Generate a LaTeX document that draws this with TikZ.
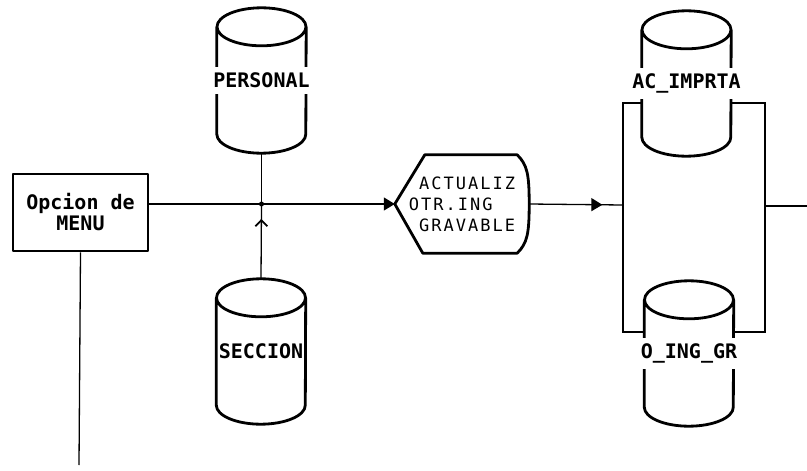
\documentclass[tikz,border=0pt]{standalone}
\usepackage{fontspec}
\setmonofont{DejaVu Sans Mono}
\newfontfamily\spacedfont[LetterSpace=12]{DejaVu Sans Mono}
\usetikzlibrary{arrows.meta, decorations.markings, calc}

\begin{document}
\begin{tikzpicture}[x=1pt, y=-1pt,
  outline/.style={line width=2.8pt, line join=round},
  flow/.style={line width=1.3pt},
  store/.style={minimum width=89pt, minimum height=145pt, inner sep=0pt},
  storetext/.style={fill=white, inner xsep=0pt, inner ysep=6pt,
    font=\ttfamily\bfseries\fontsize{20}{20}\selectfont},
  arrowat/.style={postaction={decorate}, decoration={markings,
    mark=at position #1 with {\arrow{Triangle[length=11pt,width=13pt]}}}},
  caretat/.style={postaction={decorate}, decoration={markings,
    mark=at position #1 with {\arrow{Straight Barb[length=6pt,width=12pt,line width=1.8pt]}}}}
]

\useasboundingbox (0,0) rectangle (807,471);

% Menu option
\node[outline, draw, minimum width=135pt, minimum height=77pt, align=center,
  font=\ttfamily\bfseries\fontsize{20}{21}\selectfont] (menu) at (80.5,212.5) {Opcion de\\MENU};

% Data stores
\node[store] (personal) at (261.5,80.5) {};
\node[store] (seccion) at (261,351.5) {};
\node[store] (acimprta) at (686.5,83.5) {};
\node[store] (oinggr) at (689,353.5) {};
\foreach \s in {personal, seccion, acimprta, oinggr}
  \draw[outline] ($(\s.north)+(0,19)$) ellipse [x radius=44.5, y radius=19]
    ($(\s.north west)+(0,19)$) -- ($(\s.south west)+(0,-19)$)
    arc[start angle=180, end angle=0, x radius=44.5, y radius=19]
    -- ($(\s.north east)+(0,19)$);
\node[storetext] (personaltxt) at (personal) {PERSONAL};
\node[storetext] (secciontxt) at (seccion) {SECCION};
\node[storetext] (acimprtatxt) at (acimprta) {AC\_IMPRTA};
\node[storetext] (oinggrtxt) at (oinggr) {O\_ING\_GR};

% Process
\node[minimum width=134pt, minimum height=98pt, align=left, inner sep=0pt,
  font=\spacedfont\fontsize{17}{21}\selectfont] (hex) at (462,204)
  {\phantom{O}ACTUALIZ\\OTR.ING\\\phantom{O}GRAVABLE};
\draw[outline] (hex.west) -- ($(hex.north west)+(30,0)$) -- ($(hex.north east)+(-12,0)$)
  .. controls ($(hex.north east)+(-2,10)$) and ($(hex.east)+(0,-30)$) .. (hex.east)
  .. controls ($(hex.east)+(0,30)$) and ($(hex.south east)+(-2,-10)$) .. ($(hex.south east)+(-12,0)$)
  -- ($(hex.south west)+(28,0)$) -- cycle;

% Junction
\coordinate (jn) at (personal.south |- hex.west);
\draw[flow] (menu.east |- hex.west) -- (jn);
\draw[flow, -{Triangle[length=11pt,width=13pt]}] (jn) -- (hex.west);
\draw[flow] (personal.south) -- (jn);
\draw[flow, caretat=0.8] (seccion.north) -- (jn);
\fill (jn) circle (2.5);

% Bracket round the two stores
\coordinate (bin) at (623,205);
\coordinate (bout) at (765,206);
\coordinate (btl) at (623,103);
\coordinate (bbl) at (623,332);
\coordinate (btr) at (765,103);
\coordinate (bbr) at (765,332);
\coordinate (exit) at (807,206);
\draw[flow, arrowat=0.78] (hex.east) -- (bin);
\draw[flow] (acimprta.west |- btl) -- (btl) -- (bbl) -- (oinggr.west |- bbl);
\draw[flow] (acimprta.east |- btr) -- (btr) -- (bbr) -- (oinggr.east |- bbr);
\draw[flow] (bout) -- (exit);

% Down from menu
\coordinate (menuend) at (79,465);
\draw[flow] (menu.south) -- (menuend);

\end{tikzpicture}
\end{document}
